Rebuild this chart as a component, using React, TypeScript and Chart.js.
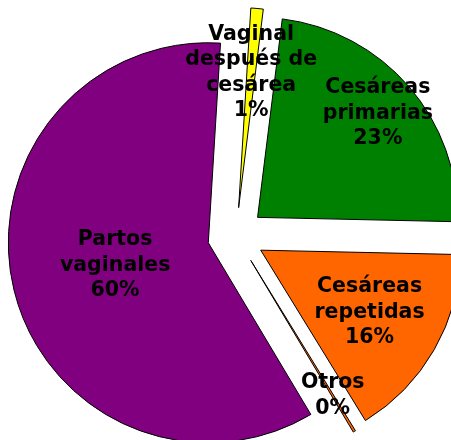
import React, { useEffect, useRef } from "react";
import { Chart, registerables } from "chart.js";

Chart.register(...registerables);

// Data
const categories: string[][] = [
  ["Vaginal", "después de", "cesárea"],
  ["Cesáreas", "primarias"],
  ["Cesáreas", "repetidas"],
  ["Otros"],
  ["Partos", "vaginales"],
];
const values: number[] = [1.0, 23.4, 15.9, 0.2, 59.6];

// Styles / layout
const colors: string[] = ["#FFFF00", "#008000", "#FF6600", "#FF6600", "#800080"];
const labelDistance: number[] = [164, 187.5, 154, 186.7, 124.4];
const EXPLODE = 28.5;
const RADIUS = 200;
const ROTATION = 3.5;
const FONT = "bold 20.5px 'DejaVu Sans', Verdana, sans-serif";
const LINE_H = 25.5;

const total = values.reduce((a, b) => a + b, 0);

// Chart.js grows the outer radius (and trims the angle) of offset arcs;
// undo that so every exploded slice keeps the same radius and its true angle.
const explodeFixPlugin = {
  id: "explodeFix",
  afterDatasetUpdate(chart: any, args: any) {
    if (args.index !== 0) return;
    const meta = chart.getDatasetMeta(0);
    meta.data.forEach((arc: any) => {
      const t = (arc.options?.offset || 0) / 4;
      const fix = 1 - Math.sin(Math.min(Math.PI, arc.circumference || 0));
      const ro = t * fix;
      arc.outerRadius = RADIUS - ro;
      const widen = ro / (Math.PI * RADIUS) / 2;
      arc.startAngle = arc.startAngle - widen;
      arc.endAngle = arc.endAngle + widen;
    });
  },
};

const labelPlugin = {
  id: "sliceLabels",
  afterDatasetsDraw(chart: any) {
    const ctx = chart.ctx as CanvasRenderingContext2D;
    const meta = chart.getDatasetMeta(0);
    ctx.save();
    ctx.font = FONT;
    ctx.fillStyle = "#000";
    ctx.textAlign = "center";
    ctx.textBaseline = "middle";
    meta.data.forEach((arc: any, i: number) => {
      const mid = (arc.startAngle + arc.endAngle) / 2;
      const d = labelDistance[i];
      const cx = arc.x + Math.cos(mid) * d;
      const cy = arc.y + Math.sin(mid) * d;
      const pct = Math.round((values[i] / total) * 100) + "%";
      const lines = [...categories[i], pct];
      const n = lines.length;
      lines.forEach((ln, k) => {
        const y = cy + (k - (n - 1) / 2) * LINE_H;
        ctx.fillText(ln, cx, y);
      });
    });
    ctx.restore();
  },
};

export default function App() {
  const ref = useRef<HTMLCanvasElement | null>(null);
  useEffect(() => {
    if (!ref.current) return;
    const chart = new Chart(ref.current, {
      type: "pie",
      data: {
        labels: categories.map((c) => c.join(" ")),
        datasets: [
          {
            data: values,
            backgroundColor: colors,
            borderColor: "#000000",
            borderWidth: 1,
            offset: 4 * EXPLODE,
            clip: false as any,
          } as any,
        ],
      },
      options: {
        responsive: false,
        devicePixelRatio: 1,
        animation: false,
        rotation: ROTATION,
        radius: RADIUS,
        layout: { padding: { left: 21, right: 0, top: 32, bottom: 0 } },
        plugins: {
          legend: { display: false },
          tooltip: { enabled: false },
        },
        events: [],
      } as any,
      plugins: [explodeFixPlugin, labelPlugin],
    });
    return () => chart.destroy();
  }, []);
  return (
    <div style={{ position: "fixed", left: 0, top: 0, width: 451, height: 440, background: "#fff" }}>
      <canvas ref={ref} width={451} height={440} style={{ display: "block" }} />
    </div>
  );
}
